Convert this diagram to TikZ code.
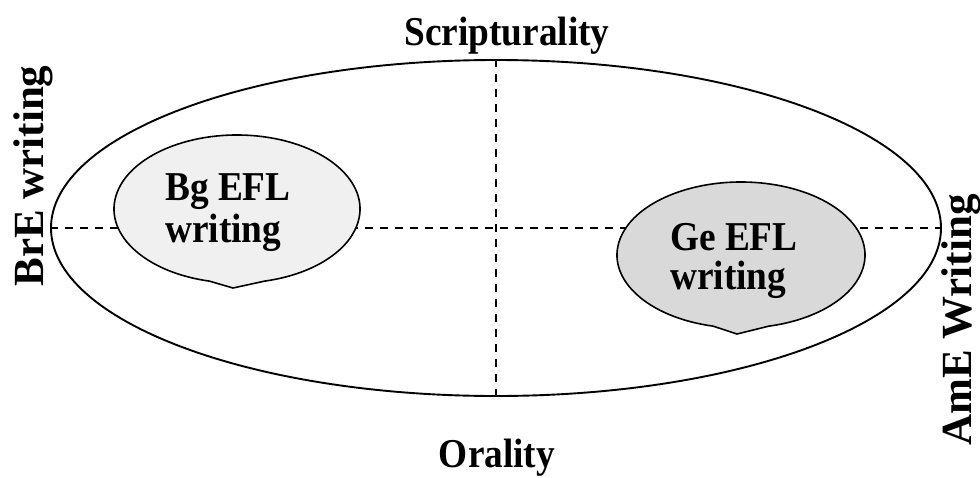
\documentclass[tikz,border=0pt]{standalone}
\usepackage{fontspec}
\setmainfont{Liberation Serif}
\newfontfamily\narrowserif{Liberation Serif}[FakeStretch=0.91]
\usetikzlibrary{shapes.geometric,calc}

\definecolor{bglight}{RGB}{240,240,240}
\definecolor{gemid}{RGB}{217,217,217}

\begin{document}
\begin{tikzpicture}[x=1pt,y=-1pt,
  axis/.style={line width=2pt, dash pattern=on 8pt off 7pt},
  frame/.style={draw, line width=1.9pt, ellipse, inner sep=0pt},
  bubble/.style={draw, line width=1.6pt},
  pole/.style={font=\fontsize{41}{45}\selectfont\narrowserif\bfseries, inner sep=0pt, anchor=base},
  sidelabel/.style={font=\fontsize{43}{47}\selectfont\bfseries, inner sep=0pt, rotate=90, anchor=base},
  bubbletext/.style={align=left, inner sep=0pt, anchor=north west}]
  \useasboundingbox (0,0) rectangle (980,477);

  % outer field with its two axes
  \node[frame, minimum width=890pt, minimum height=336pt] (outer) at (496,228) {};
  \draw[axis] (outer.west) -- (outer.east);
  \draw[axis] (outer.north) -- (outer.south);

  % speech-bubble shaped groups
  \coordinate (bgc) at (237,209);
  \coordinate (bgtip) at (233,288);
  \draw[bubble, fill=bglight] (bgtip) -- ([shift={(bgc)}]103:123 and 74)
    arc[start angle=103, end angle=437, x radius=123, y radius=74] -- cycle;

  \coordinate (gec) at (741,255);
  \coordinate (getip) at (737,334);
  \draw[bubble, fill=gemid] (getip) -- ([shift={(gec)}]103:124 and 73)
    arc[start angle=103, end angle=437, x radius=124, y radius=73] -- cycle;

  \node[bubbletext, font=\fontsize{41}{42}\selectfont\narrowserif\bfseries] (bg) at (165,173) {Bg EFL\\writing};
  \node[bubbletext, font=\fontsize{41}{39}\selectfont\narrowserif\bfseries] (ge) at (670,223) {Ge EFL\\writing};

  % axis labels
  \node[pole] (top) at (507,45) {Scripturality};
  \node[pole] (bottom) at (497,467) {Orality};
  \node[sidelabel] (left) at (43,176) {BrE writing};
  \node[sidelabel] (right) at (971,320) {AmE Writing};
\end{tikzpicture}
\end{document}
